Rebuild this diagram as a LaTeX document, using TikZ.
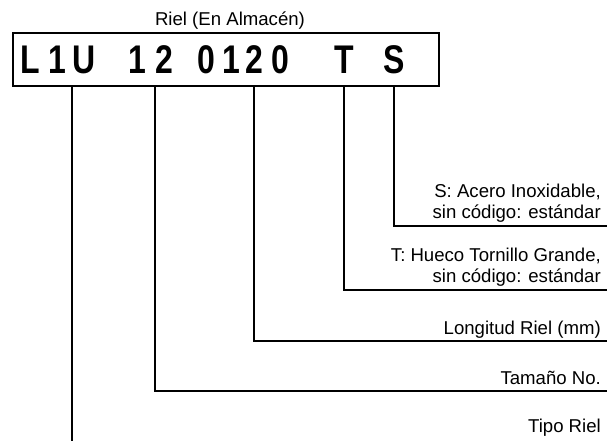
\documentclass[tikz,border=0pt]{standalone}
\usepackage{fontspec}
\setmainfont{Liberation Sans}
\newfontfamily\codefont[FakeStretch=0.8]{Liberation Sans}
\usepackage{tikz}

\begin{document}
\begin{tikzpicture}[x=1pt,y=-1pt,
  codechar/.style={anchor=base,inner sep=0pt,font=\codefont\fontsize{40}{40}\selectfont\bfseries},
  desc/.style={inner sep=0pt,align=right,font=\fontsize{18.6}{21}\selectfont},
  lead/.style={line width=2.2pt}]
  \useasboundingbox (0,0) rectangle (607,441);
  % code box
  \node[draw,line width=2pt,anchor=north west,inner sep=0pt,
        minimum width=426,minimum height=53] (code) at (12,32) {};
  \node[anchor=base,inner sep=0pt,font=\fontsize{18.6}{21}\selectfont] (title)
    at (230,26) {Riel (En Almacén)};
  \foreach \ch/\x [count=\i] in {L/30,1/57,U/84,1/137,2/164,0/206,1/231,2/254,0/280,T/344,S/394}
    \node[codechar] (c\i) at (\x,74) {\ch};
  % free ends on the right border
  \coordinate (eS) at (607,226);
  \coordinate (eT) at (607,290);
  \coordinate (eL) at (607,341);
  \coordinate (eN) at (607,391);
  \coordinate (eR) at (607,441);
  % descriptions
  \node[desc,anchor=south east] (dS) at (601,223) {S: Acero Inoxidable,\\sin código: estándar};
  \node[desc,anchor=south east] (dT) at (601,287) {T: Hueco Tornillo Grande,\\sin código: estándar};
  \node[desc,anchor=base east] (dL) at (601,334) {Longitud Riel (mm)};
  \node[desc,anchor=base east] (dN) at (601,384) {Tamaño No.};
  \node[desc,anchor=base east] (dR) at (601,432) {Tipo Riel};
  % leaders
  \draw[lead] (c11 |- code.south) |- (eS);
  \draw[lead] (c10 |- code.south) |- (eT);
  \draw[lead] (c8 |- code.south) |- (eL);
  \draw[lead] (c5.west |- code.south) |- (eN);
  \draw[lead] (c3.west |- code.south) -- (c3.west |- eR);
\end{tikzpicture}
\end{document}
